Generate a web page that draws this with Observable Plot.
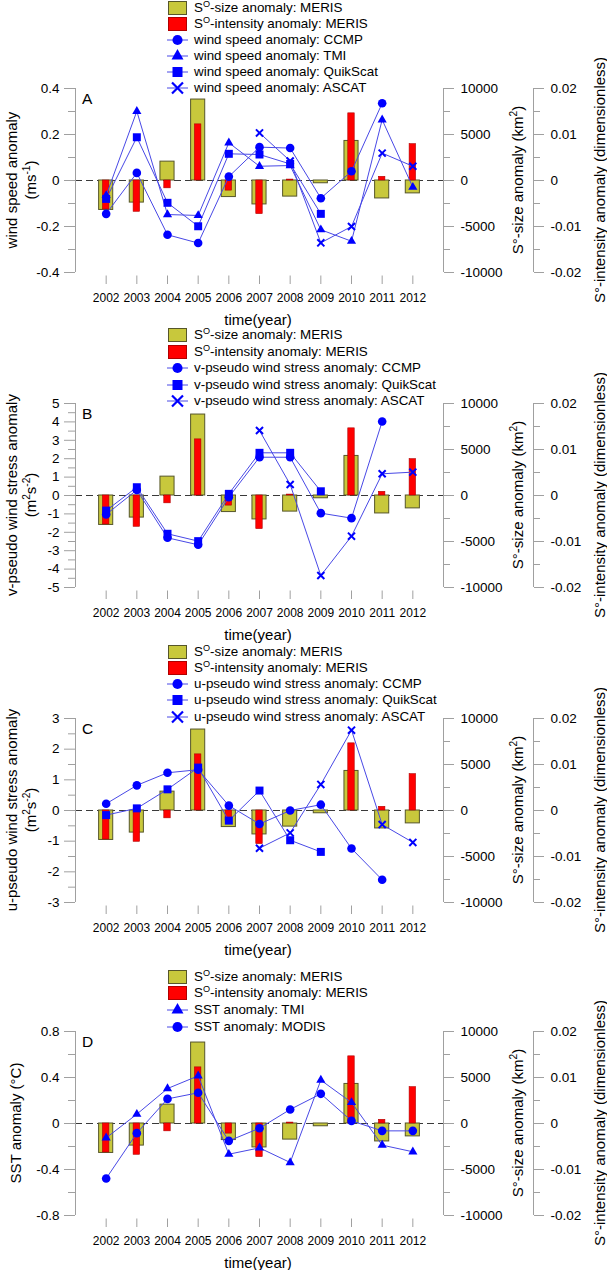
<!DOCTYPE html>
<html><head><meta charset="utf-8">
<script src="https://cdn.jsdelivr.net/npm/d3@7"></script>
<script src="https://cdn.jsdelivr.net/npm/@observablehq/plot@0.6"></script>
<style>
html,body{margin:0;padding:0;background:#fff;overflow:hidden;}
#root{position:relative;width:607px;height:1270px;overflow:hidden;font-family:Arial,"Liberation Sans",sans-serif;color:#000;}
.layer{position:absolute;left:0;}
.vt{position:absolute;white-space:nowrap;transform:translate(-50%,-50%) rotate(-90deg);font-size:15px;line-height:17px;}
.ht{position:absolute;white-space:nowrap;transform:translate(-50%,-50%);font-size:15px;line-height:17px;}
.letter{position:absolute;font-size:15.5px;line-height:16px;}
.lg{position:absolute;white-space:nowrap;font-size:13.4px;line-height:16px;height:16px;display:flex;align-items:center;}
.lg svg{display:block;margin-right:6px;}
sup{font-size:0.68em;vertical-align:0.5em;line-height:0;}
</style></head><body><div id="root"></div>
<script>
// ---------- data ----------
const years = [2002, 2003, 2004, 2005, 2006, 2007, 2008, 2009, 2010, 2011, 2012];
const sizeAnomaly = [-3200, -2400, 2050, 8800, -1800, -2600, -1750, -300, 4300, -1950, -1400];        // km^2
const intensityAnomaly = [-0.0063, -0.0068, -0.0017, 0.0122, -0.0022, -0.0073, 0.0002, 0, 0.0146, 0.0008, 0.0079];

const windCCMP     = [-0.145, 0.033, -0.236, -0.272, 0.017, 0.145, 0.141, -0.077, 0.040, 0.336, null];
const windTMI      = [-0.065, 0.301, -0.148, -0.152, 0.164, 0.062, 0.065, -0.214, -0.264, 0.264, -0.029];
const windQuikScat = [-0.080, 0.188, -0.097, -0.199, 0.116, 0.113, 0.072, -0.145, null, null, null];
const windASCAT    = [null, null, null, null, null, 0.207, 0.085, -0.271, -0.200, 0.119, 0.062];

const vCCMP     = [-1.03, 0.30, -2.30, -2.68, -0.09, 2.08, 2.08, -0.96, -1.23, 4.02, null];
const vQuikScat = [-0.82, 0.45, -2.08, -2.48, 0.09, 2.32, 2.32, 0.23, null, null, null];
const vASCAT    = [null, null, null, null, null, 3.53, 0.60, -4.35, -2.21, 1.18, 1.27];

const uCCMP     = [0.22, 0.82, 1.23, 1.33, 0.16, -0.44, 0.00, 0.19, -1.24, -2.26, null];
const uQuikScat = [-0.15, 0.07, 0.69, 1.40, -0.33, 0.65, -0.97, -1.35, null, null, null];
const uASCAT    = [null, null, null, null, null, -1.23, -0.73, 0.85, 2.62, -0.46, -1.04];

const sstTMI   = [-0.125, 0.081, 0.304, 0.414, -0.267, -0.212, -0.339, 0.377, 0.183, -0.188, -0.246];
const sstMODIS = [-0.478, -0.084, 0.214, 0.267, -0.151, -0.041, 0.122, 0.258, 0.023, -0.064, -0.064];

// tick values
const ticksA = [-0.4, -0.2, 0, 0.2, 0.4], minorA = [-0.3, -0.1, 0.1, 0.3];
const ticksB = [-5, -4, -3, -2, -1, 0, 1, 2, 3, 4, 5], minorB = [-4.5, -3.5, -2.5, -1.5, -0.5, 0.5, 1.5, 2.5, 3.5, 4.5];
const ticksC = [-3, -2, -1, 0, 1, 2, 3], minorC = [-2.5, -1.5, -0.5, 0.5, 1.5, 2.5];
const ticksD = [-0.8, -0.4, 0, 0.4, 0.8], minorD = [-0.6, -0.2, 0.2, 0.6];
const sizeTicks = [-10000, -5000, 0, 5000, 10000], sizeMinor = [-7500, -2500, 2500, 7500];
const intTicks = [-0.02, -0.01, 0, 0.01, 0.02], intMinor = [-0.015, -0.005, 0.005, 0.015];

// texts
const sizeLegend = "S<sup>O</sup>-size anomaly: MERIS";
const intLegend = "S<sup>O</sup>-intensity anomaly: MERIS";
const sizeTitle = "S°-size anomaly (km<sup>2</sup>)";
const intTitle = "S°-intensity anomaly (dimensionless)";
const xTitle = "time(year)";

// ---------- style ----------
const OLIVE = "#c8c83c", OLIVE_STROKE = "#56562a", RED = "#ff0000", RED_STROKE = "#b00000";
const BLUE = "#0000ff", LINE = "#4848e6", AX = "#a0a0a0";
const xDomain = [2001, 2013];
const symR = {circle: 4.3, triangle: 3.4, square: 4.5, times: 3.3};
const legSize = {circle: 80, triangle: 62, square: 100, times: 80};
const d3Sym = {circle: d3.symbolCircle, triangle: d3.symbolTriangle, square: d3.symbolSquare, times: d3.symbolTimes || d3.symbolCross};

const panels = [
  {letter: "A", top: 88, yMax: 0.4, major: ticksA, minor: minorA, legendTop: 8, legendStep: 15.9,
   title: ["wind speed anomaly", "(ms<sup>-1</sup>)"],
   series: [
     {name: "wind speed anomaly: CCMP", values: windCCMP, symbol: "circle"},
     {name: "wind speed anomaly: TMI", values: windTMI, symbol: "triangle"},
     {name: "wind speed anomaly: QuikScat", values: windQuikScat, symbol: "square"},
     {name: "wind speed anomaly: ASCAT", values: windASCAT, symbol: "times"}]},
  {letter: "B", top: 403, yMax: 5, major: ticksB, minor: minorB, legendTop: 335, legendStep: 16.5,
   title: ["v-pseudo wind stress anomaly", "(m<sup>2</sup>s<sup>-2</sup>)"],
   series: [
     {name: "v-pseudo wind stress anomaly: CCMP", values: vCCMP, symbol: "circle"},
     {name: "v-pseudo wind stress anomaly: QuikScat", values: vQuikScat, symbol: "square"},
     {name: "v-pseudo wind stress anomaly: ASCAT", values: vASCAT, symbol: "times"}]},
  {letter: "C", top: 717.5, yMax: 3, major: ticksC, minor: minorC, legendTop: 651.5, legendStep: 16.3,
   title: ["u-pseudo wind stress anomaly", "(m<sup>2</sup>s<sup>-2</sup>)"],
   series: [
     {name: "u-pseudo wind stress anomaly: CCMP", values: uCCMP, symbol: "circle"},
     {name: "u-pseudo wind stress anomaly: QuikScat", values: uQuikScat, symbol: "square"},
     {name: "u-pseudo wind stress anomaly: ASCAT", values: uASCAT, symbol: "times"}]},
  {letter: "D", top: 1031, yMax: 0.8, major: ticksD, minor: minorD, legendTop: 976.7, legendStep: 16.6,
   title: ["SST anomaly (°C)"],
   series: [
     {name: "SST anomaly: TMI", values: sstTMI, symbol: "triangle"},
     {name: "SST anomaly: MODIS", values: sstMODIS, symbol: "circle"}]}
];

const root = document.getElementById("root");
const FRAME_H = 184, MT = 88, MB = 45, ML = 75, MR = 164, W = 607;

function addDiv(cls, html, styles) {
  const d = document.createElement("div");
  d.className = cls; d.innerHTML = html;
  Object.assign(d.style, styles);
  root.appendChild(d);
  return d;
}

for (const p of panels) {
  const toY = v => v / 10000 * p.yMax;         // size -> left units
  const toYi = v => v / 0.02 * p.yMax;         // intensity -> left units
  const rows = years.map((year, i) => ({year, size: sizeAnomaly[i], intensity: intensityAnomaly[i]}));
  const sdata = p.series.map(s => years.map((year, i) => ({year, v: s.values[i]})).filter(d => d.v != null));

  const marks = [
    Plot.ruleY([0], {stroke: "#3a3a3a", strokeDasharray: "7,4", strokeWidth: 1}),
    Plot.rect(rows, {x1: d => d.year - 0.23, x2: d => d.year + 0.23, y1: 0, y2: d => toY(d.size),
      fill: OLIVE, stroke: OLIVE_STROKE, strokeWidth: 1}),
    Plot.rect(rows.filter(d => d.intensity !== 0), {x1: d => d.year - 0.105, x2: d => d.year + 0.105, y1: 0, y2: d => toYi(d.intensity),
      fill: RED, stroke: RED_STROKE, strokeWidth: 0.6})
  ];
  sdata.forEach(sd => marks.push(Plot.line(sd, {x: "year", y: "v", stroke: LINE, strokeWidth: 1})));
  p.series.forEach((s, j) => {
    const o = {x: "year", y: "v", symbol: s.symbol, r: symR[s.symbol]};
    if (s.symbol === "times") Object.assign(o, {stroke: BLUE, strokeWidth: 2, fill: "none"});
    else Object.assign(o, {fill: BLUE, stroke: "none"});
    marks.push(Plot.dot(sdata[j], o));
  });
  const fmtL = v => String(Math.round(v * 1000) / 1000);
  marks.push(
    Plot.ruleX([xDomain[0]], {stroke: AX}),
    Plot.axisY({anchor: "left", ticks: p.major, tickSize: 11, tickPadding: 5, tickFormat: fmtL, stroke: AX, fill: "#000", fontSize: 13.5, label: null}),
    Plot.axisY({anchor: "left", ticks: p.minor, tickSize: 7, tickFormat: () => "", stroke: AX, label: null}),
    Plot.ruleX([xDomain[1]], {stroke: AX}),
    Plot.axisY({anchor: "right", ticks: sizeTicks.map(toY), tickSize: 10, tickPadding: 7,
      tickFormat: v => String(Math.round(v / p.yMax * 10000)), stroke: AX, fill: "#000", fontSize: 13.5, label: null}),
    Plot.axisY({anchor: "right", ticks: sizeMinor.map(toY), tickSize: 6, tickFormat: () => "", stroke: AX, label: null}),
    Plot.ruleX([xDomain[1]], {stroke: AX, dx: 90}),
    Plot.axisY({anchor: "right", dx: 90, ticks: intTicks.map(toYi), tickSize: 10, tickPadding: 7,
      tickFormat: v => String(Math.round(v / p.yMax * 0.02 * 1000) / 1000), stroke: AX, fill: "#000", fontSize: 13.5, label: null}),
    Plot.axisY({anchor: "right", dx: 90, ticks: intMinor.map(toYi), tickSize: 6, tickFormat: () => "", stroke: AX, label: null}),
    Plot.axisX({ticks: years, tickSize: 8.5, tickPadding: 9, dy: 3.5, tickFormat: d => String(d), stroke: AX, fill: "#000", fontSize: 12, label: null})
  );

  const chart = Plot.plot({
    width: W, height: MT + FRAME_H + MB,
    marginTop: MT, marginBottom: MB, marginLeft: ML, marginRight: MR,
    x: {type: "linear", domain: xDomain},
    y: {type: "linear", domain: [-p.yMax, p.yMax]},
    style: {background: "transparent", fontFamily: "Arial, 'Liberation Sans', sans-serif", fontSize: "13px", overflow: "visible", color: "#000"},
    marks
  });
  const holder = document.createElement("div");
  holder.className = "layer";
  holder.style.top = (p.top - MT) + "px";
  holder.appendChild(chart);
  root.appendChild(holder);

  const midY = p.top + FRAME_H / 2;
  // left titles
  if (p.title.length === 2) {
    addDiv("vt", p.title[0], {left: "11px", top: midY + "px"});
    addDiv("vt", p.title[1], {left: "30px", top: midY + "px"});
  } else {
    addDiv("vt", p.title[0], {left: "15px", top: midY + "px"});
  }
  // right titles
  addDiv("vt", sizeTitle, {left: "517px", top: midY + "px"});
  addDiv("vt", intTitle, {left: "599px", top: midY + "px"});
  // x title
  addDiv("ht", xTitle, {left: "258px", top: (p.top + FRAME_H + 47) + "px"});
  // panel letter
  addDiv("letter", p.letter, {left: "82px", top: (p.top + 3) + "px"});

  // legend
  const entries = [
    {kind: "rect", fill: OLIVE, stroke: OLIVE_STROKE, label: sizeLegend},
    {kind: "rect", fill: RED, stroke: RED_STROKE, label: intLegend},
    ...p.series.map(s => ({kind: "sym", symbol: s.symbol, label: s.name}))
  ];
  entries.forEach((e, i) => {
    const cy = p.legendTop + i * p.legendStep;
    const div = addDiv("lg", "", {left: "167px", top: (cy - 8) + "px"});
    const svg = d3.select(div).append("svg").attr("width", 21).attr("height", 16);
    if (e.kind === "rect") {
      svg.append("rect").attr("x", 1.5).attr("y", 1.5).attr("width", 18).attr("height", 13)
        .attr("fill", e.fill).attr("stroke", e.stroke).attr("stroke-width", 1);
    } else {
      svg.append("line").attr("x1", 0).attr("x2", 21).attr("y1", 8).attr("y2", 8).attr("stroke", LINE).attr("stroke-width", 1);
      const path = svg.append("path").attr("transform", "translate(10.5,8)")
        .attr("d", d3.symbol(d3Sym[e.symbol], legSize[e.symbol])());
      if (e.symbol === "times") path.attr("fill", "none").attr("stroke", BLUE).attr("stroke-width", 2.2);
      else path.attr("fill", BLUE);
    }
    const span = document.createElement("span");
    span.innerHTML = e.label;
    div.appendChild(span);
  });
}
</script>
</body></html>
